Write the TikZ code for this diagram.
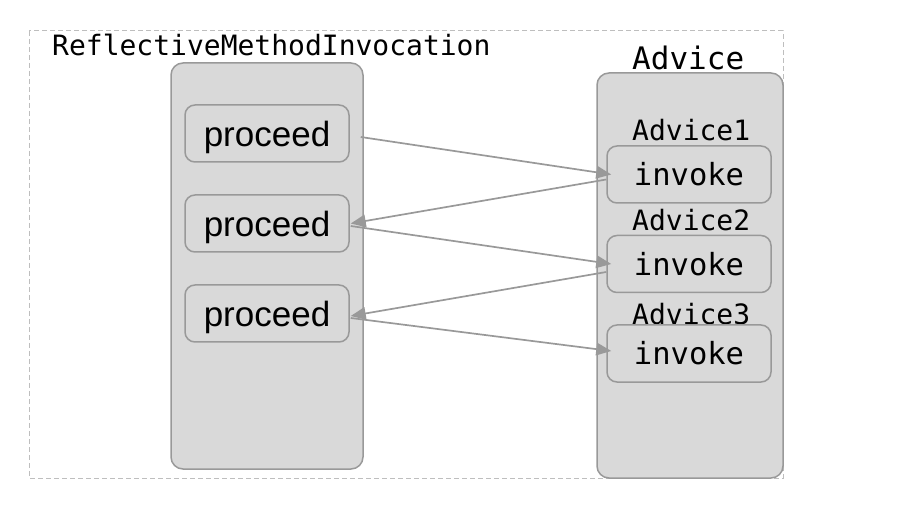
\documentclass[tikz,border=0pt]{standalone}
\usepackage{fontspec}
\setmainfont{Liberation Sans}
\newfontfamily\monof{DejaVu Sans Mono}
\usetikzlibrary{arrows.meta}
\definecolor{boxfill}{HTML}{D9D9D9}
\definecolor{boxline}{HTML}{999999}
\definecolor{dashc}{HTML}{BEBEBE}
\newcommand{\lowtext}[1]{\raisebox{-4pt}[\height][\depth]{#1}}
\tikzset{
  bigbox/.style={draw=boxline, fill=boxfill, line width=1.5pt, rounded corners=12pt},
  smallbox/.style={draw=boxline, fill=boxfill, line width=1.5pt, rounded corners=10pt, minimum width=164pt, minimum height=57pt, inner sep=0pt},
  proctext/.style={font=\fontsize{35}{38}\selectfont},
  invtext/.style={font=\monof\fontsize{30.5}{34}\selectfont},
  lbl/.style={font=\monof\fontsize{28}{30}\selectfont, anchor=base west, inner sep=0pt},
  arr/.style={draw=boxline, line width=1.7pt, -{Triangle[length=15pt,width=12.5pt]}},
}
\begin{document}
\begin{tikzpicture}[x=1pt,y=-1pt]
\useasboundingbox (0,0) rectangle (918,518);
\draw[dashc, line width=1pt, dash pattern=on 5pt off 3pt] (29,31) rectangle (783,478);
\node[lbl] (title) at (52,56) {ReflectiveMethodInvocation};
\draw[bigbox] (171,63) rectangle (363,469);
\node[smallbox, proctext] (p1) at (267,133.5) {\lowtext{proceed}};
\node[smallbox, proctext] (p2) at (267,223.5) {\lowtext{proceed}};
\node[smallbox, proctext] (p3) at (267,313.5) {\lowtext{proceed}};
\draw[bigbox] (597,73) rectangle (783,478);
\node[lbl, font=\monof\fontsize{31}{34}\selectfont] (adv) at (632,70) {Advice};
\node[lbl] (a1) at (632,141) {Advice1};
\node[lbl] (a2) at (632,231) {Advice2};
\node[lbl] (a3) at (632,325) {Advice3};
\node[smallbox, invtext] (i1) at (689,174.5) {invoke};
\node[smallbox, invtext] (i2) at (689,264) {invoke};
\node[smallbox, invtext] (i3) at (689,353.5) {invoke};
\draw[arr] ([xshift=11pt,yshift=-3.5pt]p1.east) -- ([xshift=5pt]i1.west);
\draw[arr] ([yshift=-5pt]i1.west) -- ([xshift=1pt]p2.east);
\draw[arr] ([xshift=1pt,yshift=-2.5pt]p2.east) -- ([xshift=5pt]i2.west);
\draw[arr] ([yshift=-8pt]i2.west) -- ([xshift=1pt,yshift=-2.5pt]p3.east);
\draw[arr] ([xshift=1pt,yshift=-4.5pt]p3.east) -- ([xshift=5pt,yshift=2.5pt]i3.west);
\end{tikzpicture}
\end{document}
